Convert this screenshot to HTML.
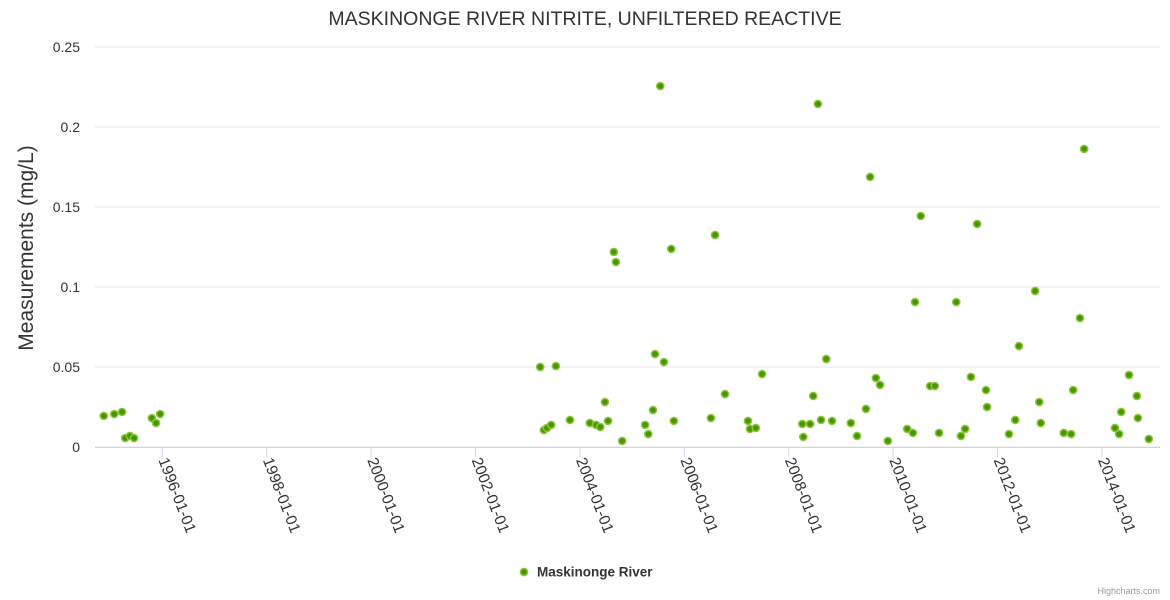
<!DOCTYPE html>
<html><head><meta charset="utf-8"><style>
body{margin:0;background:#fff;}
svg{display:block;font-family:"Liberation Sans",sans-serif;}
</style></head><body>
<svg id="chart" width="1170" height="600">
<text x="585" y="25" text-anchor="middle" font-size="19.5" fill="#333">MASKINONGE RIVER NITRITE, UNFILTERED REACTIVE</text>
<text transform="translate(33,248) rotate(-90)" text-anchor="middle" font-size="21" fill="#333">Measurements (mg/L)</text>
<g id="grid"></g><g id="xaxis"></g><g id="points"></g>
<g>
<circle cx="524" cy="572" r="3.6" fill="#4a9600" stroke="#8cc63f" stroke-width="1.5"/>
<text x="537" y="576.5" font-size="13.5" font-weight="bold" fill="#333">Maskinonge River</text>
</g>
<text x="1160" y="594" text-anchor="end" font-size="9" fill="#999">Highcharts.com</text>
</svg>
<script>
const yTicks=[0,0.05,0.1,0.15,0.2,0.25];
const yTickLabels=["0","0.05","0.1","0.15","0.2","0.25"];
const xTicks=[1996,1998,2000,2002,2004,2006,2008,2010,2012,2014];
const xTickLabels=["1996-01-01","1998-01-01","2000-01-01","2002-01-01","2004-01-01","2006-01-01","2008-01-01","2010-01-01","2012-01-01","2014-01-01"];
const dates=[1994.88,1995.08,1995.23,1995.29,1995.38,1995.46,1995.80,1995.88,1995.96,
2003.24,2003.31,2003.37,2003.45,2003.54,2003.81,2004.19,2004.31,2004.39,2004.48,2004.54,2004.65,2004.69,2004.81,
2005.25,2005.31,2005.40,2005.44,2005.54,2005.61,2005.75,2005.80,2006.51,2006.59,2006.78,2007.22,2007.26,2007.37,2007.49,
2008.26,2008.28,2008.41,2008.47,2008.56,2008.62,2008.72,2008.83,2009.19,2009.31,2009.48,2009.56,2009.67,2009.75,2009.90,
2010.27,2010.38,2010.42,2010.53,2010.71,2010.80,2010.88,2011.21,2011.30,2011.38,2011.49,2011.61,2011.78,2011.80,
2012.22,2012.34,2012.41,2012.72,2012.80,2012.83,2013.27,2013.41,2013.45,2013.58,2013.66,
2014.25,2014.33,2014.37,2014.52,2014.67,2014.69,2014.90];
const values=[0.0194,0.0206,0.0219,0.0056,0.0069,0.0056,0.0181,0.015,0.0206,
0.05,0.0106,0.0119,0.0138,0.0506,0.0169,0.015,0.0138,0.0125,0.0281,0.0163,0.1219,0.1156,0.0038,
0.0138,0.0081,0.0231,0.0581,0.2256,0.0531,0.1238,0.0163,0.0181,0.1325,0.0331,0.0163,0.0113,0.0119,0.0456,
0.0144,0.0063,0.0144,0.0319,0.2144,0.0169,0.055,0.0163,0.015,0.0069,0.0238,0.1688,0.0431,0.0388,0.0038,
0.0113,0.0088,0.0906,0.1444,0.0381,0.0381,0.0088,0.0906,0.0069,0.0113,0.0438,0.1394,0.0356,0.025,
0.0081,0.0169,0.0631,0.0975,0.0281,0.015,0.0088,0.0081,0.0356,0.0806,0.1863,
0.0119,0.0081,0.0219,0.045,0.0319,0.0181,0.005];
const NS="http://www.w3.org/2000/svg";
const L=95,R=1160,T=47,B=447,XMIN=1994.711,XMAX=2015.113,YMAX=0.25;
function xs(v){return L+(v-XMIN)/(XMAX-XMIN)*(R-L);}
function ys(v){return B-v/YMAX*(B-T);}
function mk(tag,a,p){const e=document.createElementNS(NS,tag);for(const k in a)e.setAttribute(k,a[k]);p.appendChild(e);return e;}
const grid=document.getElementById('grid');
yTicks.forEach((t,i)=>{
 const ln=mk('line',{x1:L,x2:R,y1:ys(t),y2:ys(t),stroke:'#e6e6e6','stroke-width':1},grid);
 
 
 const tx=mk('text',{x:80,y:ys(t)+5,'text-anchor':'end','font-size':14,fill:'#333'},grid);
 tx.textContent=yTickLabels[i];
 
 
});
const xa=document.getElementById('xaxis');
const al=mk('line',{x1:L,x2:R,y1:B+0.5,y2:B+0.5,stroke:'#ccd6eb','stroke-width':1},xa);


xTicks.forEach((t,i)=>{
 const x=xs(t);
 const tk=mk('line',{x1:x,x2:x,y1:B,y2:B+10,stroke:'#ccd6eb'},xa);
 
 
 const tx=mk('text',{transform:`translate(${x-4},${B+13}) rotate(69)`,'font-size':15.5,fill:'#333'},xa);
 tx.textContent=xTickLabels[i];
 
 
});
const pg=document.getElementById('points');
dates.forEach((d,i)=>{
 const c=mk('circle',{cx:xs(d),cy:ys(values[i]),r:3.6,fill:'#4a9600',stroke:'#8cc63f','stroke-width':1.5},pg);
 
 
});
</script>
</body></html>
